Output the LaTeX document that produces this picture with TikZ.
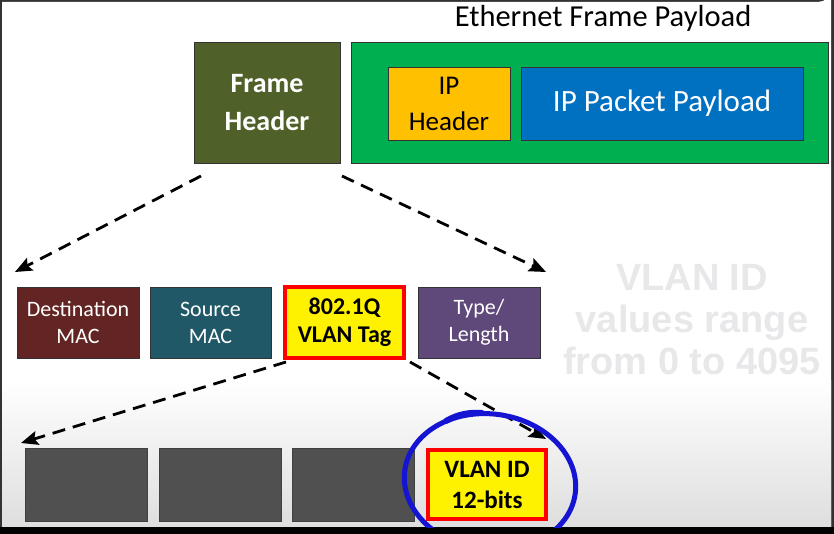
\documentclass[tikz,border=0pt]{standalone}
\usepackage{fontspec}
\setmainfont{Carlito}
\newfontfamily\arialfont{Liberation Sans}
\usetikzlibrary{arrows.meta}
\definecolor{olivehdr}{HTML}{4F6128}
\definecolor{grn}{HTML}{00B050}
\definecolor{iphdr}{HTML}{FFC000}
\definecolor{ipblue}{HTML}{0070C0}
\definecolor{dmac}{HTML}{632523}
\definecolor{smac}{HTML}{215868}
\definecolor{tlen}{HTML}{5F497A}
\definecolor{grybox}{HTML}{505050}
\definecolor{ghost}{HTML}{E8E8EA}
\definecolor{penblue}{HTML}{1414D2}
\definecolor{edge}{HTML}{333333}
\tikzset{
  box/.style={draw=edge, line width=0.8pt, inner sep=0pt, align=center},
  hl/.style={draw=red, line width=4pt, fill=yellow, inner sep=0pt, align=center, text=black},
  dasharrow/.style={line width=2.8pt, dash pattern=on 13pt off 8pt, -{Stealth[length=17pt,width=14pt,inset=3pt]}},
}
\begin{document}
\begin{tikzpicture}[x=1pt,y=-1pt]
\useasboundingbox (0,0) rectangle (834,534);
% frame
\fill[edge] (0,0) rectangle (834,534);
\fill[white] (2,2) -- (818,2) arc[start angle=90,end angle=0,radius=13] -- (831,527) -- (2,527) -- cycle;
\shade[top color=white, bottom color=black!13] (2,380) rectangle (831,527);
\fill[black] (0,527) rectangle (834,534);

\node[font=\fontsize{30.5}{34}\selectfont] (title) at (603,18) {Ethernet Frame Payload};

\node[box, fill=olivehdr, text=white, minimum width=146pt, minimum height=121pt,
  font=\fontsize{28}{38}\selectfont\bfseries] (fh) at (267,102.5) {Frame\\Header};
\node[box, fill=grn, minimum width=477pt, minimum height=121pt] (pay) at (589.5,102.5) {};
\node[box, fill=iphdr, text=black, minimum width=122pt, minimum height=73pt,
  font=\fontsize{27}{36}\selectfont] (iph) at (449,103.5) {IP\\Header};
\node[box, fill=ipblue, text=white, minimum width=282pt, minimum height=73pt,
  font=\fontsize{31}{34}\selectfont] (ipp) at (662,103.5) {IP Packet Payload};

% row 2
\node[box, fill=dmac, text=white, minimum width=122pt, minimum height=71pt,
  font=\fontsize{22}{27}\selectfont] (dm) at (78,322.5) {Destination\\MAC};
\node[box, fill=smac, text=white, minimum width=121pt, minimum height=71pt,
  font=\fontsize{22}{27}\selectfont] (sm) at (210.5,322.5) {Source\\MAC};
\node[hl, minimum width=119pt, minimum height=71pt,
  font=\fontsize{24}{28}\selectfont\bfseries] (tag) at (344.5,322.5) {802.1Q\\VLAN Tag};
\node[box, fill=tlen, text=white, minimum width=122pt, minimum height=71pt,
  font=\fontsize{22}{27}\selectfont] (tl) at (479,322.5) {Type/\\Length};

% row 3
\node[box, fill=grybox, draw=black!75, minimum width=122pt, minimum height=73pt] (g1) at (86,484.5) {};
\node[box, fill=grybox, draw=black!75, minimum width=122pt, minimum height=73pt] (g2) at (220,484.5) {};
\node[box, fill=grybox, draw=black!75, minimum width=122pt, minimum height=73pt] (g3) at (353,484.5) {};
\node[hl, minimum width=118pt, minimum height=69pt,
  font=\fontsize{25}{31}\selectfont\bfseries] (vid) at (487,484.5) {VLAN ID\\12-bits};

% ghost text
\node[text=ghost, align=center, font=\arialfont\bfseries\fontsize{38}{42}\selectfont] (note) at (692,320)
  {VLAN ID\\values range\\from 0 to 4095};

% arrows
\coordinate (a1s) at (201,176);
\coordinate (a1e) at (15,272);
\coordinate (a2s) at (342,176);
\coordinate (a2e) at (546,272);
\coordinate (a3s) at (286,362);
\coordinate (a3e) at (21,443);
\coordinate (a4s) at (410,362);
\coordinate (a4e) at (546,439);
\draw[dasharrow] (a1s) -- (a1e);
\draw[dasharrow] (a2s) -- (a2e);
\draw[dasharrow] (a3s) -- (a3e);
\draw[dasharrow] (a4s) -- (a4e);

% hand-drawn circle
\begin{scope}
\clip (0,0) rectangle (834,527);
\draw[penblue, line width=5pt, rotate around={-8:(490,482)}] (490,482) ellipse[x radius=86, y radius=68];
\draw[penblue, line width=6pt, line cap=round] (446,421) .. controls (458,414) and (470,412) .. (482,413);
\end{scope}
\end{tikzpicture}
\end{document}
